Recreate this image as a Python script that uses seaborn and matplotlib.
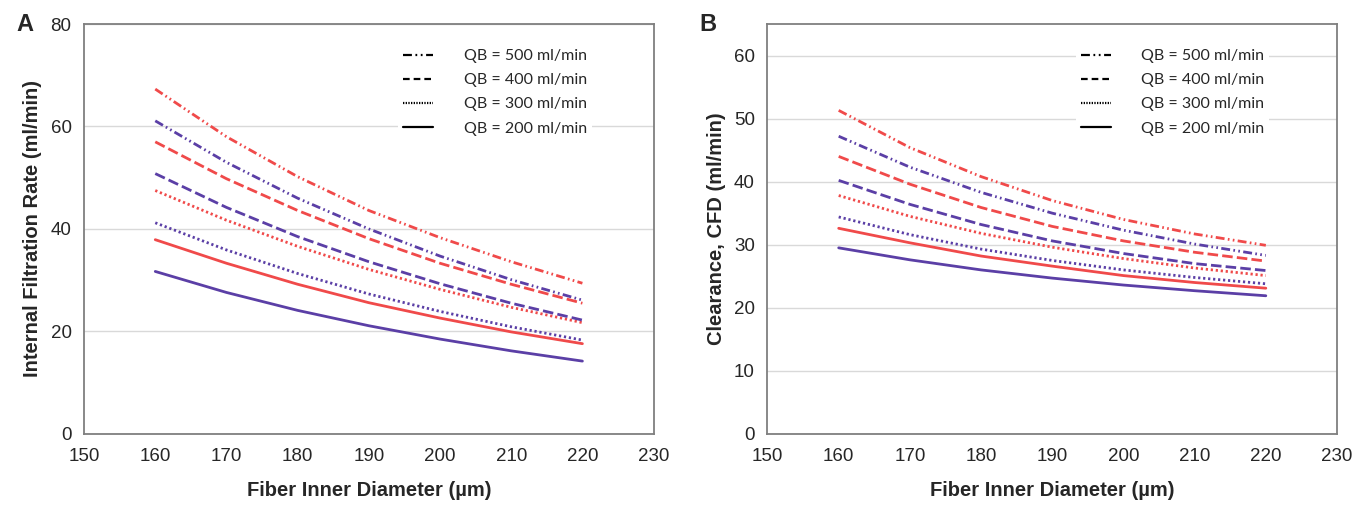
import pandas as pd
import matplotlib
matplotlib.use("Agg")
import matplotlib.pyplot as plt
from matplotlib.lines import Line2D
import seaborn as sns

# fiber inner diameter (um)
diameter = [160, 170, 180, 190, 200, 210, 220]
qb_levels = [500, 400, 300, 200]

# panel A - internal filtration rate (ml/min)
ifr_red = {
    500: [67.3, 58.0, 50.2, 43.6, 38.3, 33.6, 29.4],
    400: [57.0, 49.8, 43.6, 38.1, 33.3, 29.2, 25.5],
    300: [47.5, 41.7, 36.6, 32.1, 28.2, 24.7, 21.7],
    200: [37.9, 33.3, 29.2, 25.6, 22.6, 19.9, 17.6],
}
ifr_purple = {
    500: [61.1, 53.0, 46.0, 40.0, 34.7, 30.1, 26.1],
    400: [50.8, 44.2, 38.5, 33.6, 29.3, 25.5, 22.2],
    300: [41.2, 35.9, 31.3, 27.3, 23.9, 20.9, 18.3],
    200: [31.7, 27.6, 24.1, 21.1, 18.5, 16.2, 14.2],
}

# panel B - clearance, CFD (ml/min)
cl_red = {
    500: [51.3, 45.4, 40.8, 37.0, 34.0, 31.7, 29.9],
    400: [44.0, 39.6, 35.9, 32.9, 30.6, 28.8, 27.4],
    300: [37.8, 34.5, 31.8, 29.6, 27.8, 26.3, 25.1],
    200: [32.6, 30.3, 28.2, 26.6, 25.1, 24.0, 23.1],
}
cl_purple = {
    500: [47.2, 42.3, 38.3, 35.0, 32.3, 30.1, 28.3],
    400: [40.2, 36.4, 33.2, 30.6, 28.6, 27.0, 25.9],
    300: [34.4, 31.6, 29.3, 27.5, 26.0, 24.8, 23.8],
    200: [29.5, 27.6, 26.0, 24.7, 23.6, 22.7, 21.9],
}

colors = {"red": "#f04a4a", "purple": "#5b3fa6"}
dashes = {500: (3.2, 1.2, 0.6, 1.2, 0.6, 1.2), 400: (3.8, 1.5), 300: (0.8, 1.0), 200: ""}
legend_dashes = {500: (4, 1.6, 0.8, 1.6, 0.8, 1.6), 400: (3, 1.8), 300: (0.6, 0.6), 200: None}


def to_long(red, purple):
    rows = []
    for name, d in [("red", red), ("purple", purple)]:
        for qb in qb_levels:
            for x, y in zip(diameter, d[qb]):
                rows.append({"diameter": x, "value": y, "qb": qb, "group": name})
    return pd.DataFrame(rows)


sns.set_style("white")
plt.rcParams["font.family"] = ["Liberation Sans", "DejaVu Sans"]

fig = plt.figure(figsize=(13.56, 5.11), dpi=100)
ax1 = fig.add_axes([0.062, 0.151, 0.420, 0.802])
ax2 = fig.add_axes([0.566, 0.151, 0.420, 0.802])

panels = [
    (ax1, to_long(ifr_red, ifr_purple), 80, 20, "Internal Filtration Rate (ml/min)", "A", 0.905),
    (ax2, to_long(cl_red, cl_purple), 65, 10, "Clearance, CFD (ml/min)", "B", 0.895),
]

for ax, df, ymax, ystep, ylabel, letter, legx in panels:
    sns.lineplot(data=df, x="diameter", y="value", hue="group", style="qb",
                 palette=colors, dashes=dashes, linewidth=2.0, legend=False, ax=ax)
    ax.set_xlim(150, 230)
    ax.set_ylim(0, ymax)
    ax.set_xticks(range(150, 231, 10))
    ax.set_yticks(range(0, ymax + 1, ystep))
    ax.yaxis.grid(True, color="#d9d9d9", linewidth=1)
    ax.set_axisbelow(True)
    for s in ax.spines.values():
        s.set_color("#7f7f7f")
        s.set_linewidth(1.3)
    ax.tick_params(axis="x", direction="inout", length=8, width=1.2, color="#7f7f7f",
                   labelsize=13.5, pad=6)
    ax.tick_params(axis="y", direction="out", length=5, width=1.2, color="#7f7f7f",
                   labelsize=13.5, pad=4)
    ax.set_xlabel("Fiber Inner Diameter (µm)", fontsize=14.5, fontweight="bold", labelpad=12)
    ax.set_ylabel(ylabel, fontsize=14.5, fontweight="bold", labelpad=6)

    handles = []
    for q in qb_levels:
        if legend_dashes[q] is None:
            handles.append(Line2D([], [], color="black", linewidth=1.6, linestyle="-"))
        else:
            handles.append(Line2D([], [], color="black", linewidth=1.6,
                                  linestyle=(0, legend_dashes[q])))
    ax.legend(handles, [f"QB = {q} ml/min" for q in qb_levels],
              loc="upper right", bbox_to_anchor=(legx, 0.97),
              frameon=True, facecolor="white", edgecolor="none", framealpha=1,
              prop={"family": "Lato", "size": 11.5},
              handlelength=1.9, handletextpad=1.9, labelspacing=0.62,
              borderpad=0.3, fancybox=False)

    bbox = ax.get_position()
    fig.text(bbox.x0 - 0.05, 0.952, letter, fontsize=17, fontweight="bold",
             ha="left", va="center")

fig.savefig("out.png", dpi=100)
